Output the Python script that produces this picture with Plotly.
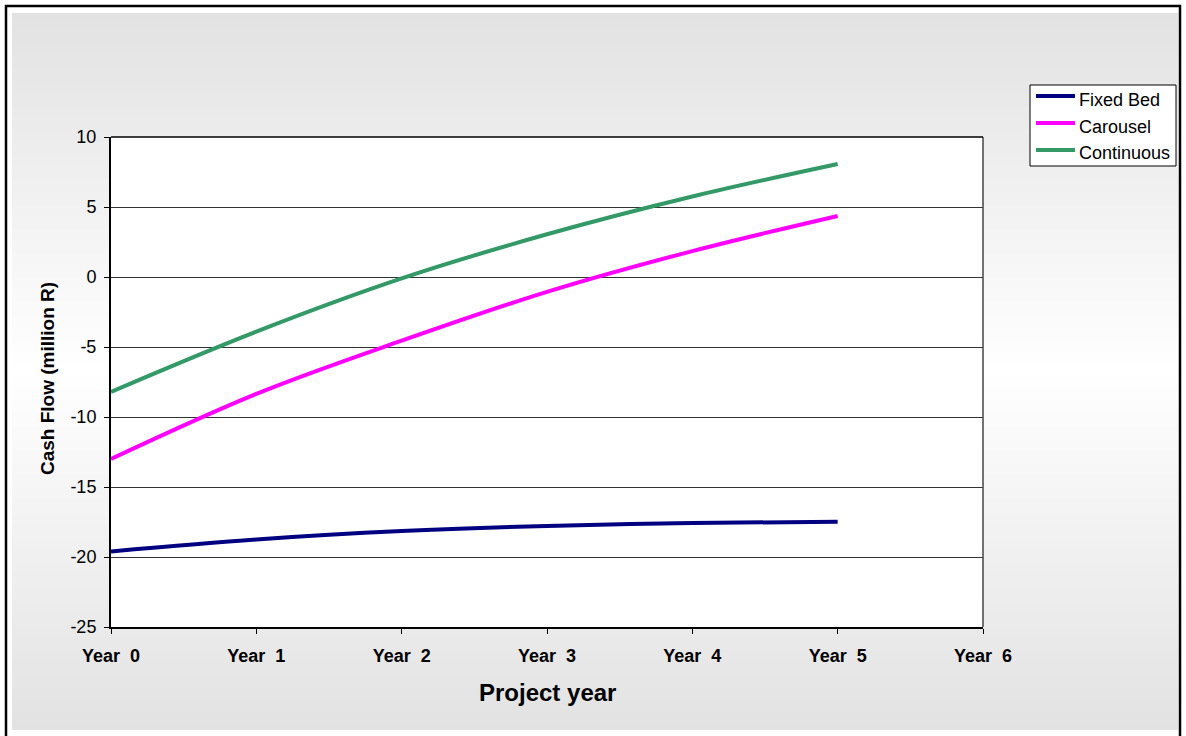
import plotly.graph_objects as go

# Cash flow projections (million R) per project year
years = [0, 1, 2, 3, 4, 5]
tick_vals = [0, 1, 2, 3, 4, 5, 6]
tick_text = ["Year\u00a0 0", "Year\u00a0 1", "Year\u00a0 2", "Year\u00a0 3",
             "Year\u00a0 4", "Year\u00a0 5", "Year\u00a0 6"]
y_tick_vals = [-25, -20, -15, -10, -5, 0, 5, 10]
y_tick_text = ["-25", "-20", "-15", "-10", "-5", "0", "5", "10"]
fixed_bed = [-19.6, -18.75, -18.15, -17.78, -17.57, -17.48]
carousel = [-13.0, -8.35, -4.55, -1.06, 1.85, 4.36]
continuous = [-8.2, -3.9, -0.1, 3.05, 5.75, 8.07]

W, H = 1186, 736
L, R, T, B = 111, 203, 137, 109
PW, PH = W - L - R, H - T - B


def px_x(p):
    return (p - L) / PW


def px_y(p):
    return (H - B - p) / PH


FONT = "Liberation Sans, Arial, sans-serif"

fig = go.Figure()
series = [
    ("Fixed Bed", fixed_bed, "#000080"),
    ("Carousel", carousel, "#FF00FF"),
    ("Continuous", continuous, "#339966"),
]
for name, vals, col in series:
    fig.add_trace(go.Scatter(
        x=years, y=vals, name=name, mode="lines",
        line=dict(color=col, width=4, shape="spline", smoothing=1.0),
        showlegend=False,
    ))

shapes = []
# vertical grey-white-grey gradient behind the chart
top, bot, mid = 13, 730, 370
step = 3
p = top
while p < bot:
    c = p + step / 2
    if c <= mid:
        t = (c - top) / (mid - top)
        v = 226 + t * (255 - 226)
    else:
        t = (c - mid) / (bot - mid)
        v = 255 - t * (255 - 226)
    v = int(round(v))
    shapes.append(dict(
        type="rect", xref="paper", yref="paper", layer="below",
        x0=px_x(12), x1=px_x(1178), y0=px_y(min(p + step + 0.5, bot)), y1=px_y(p),
        fillcolor=f"rgb({v},{v},{v})", line=dict(width=0),
    ))
    p += step

# white plotting area
shapes.append(dict(type="rect", xref="paper", yref="paper", layer="below",
                   x0=0, x1=1, y0=0, y1=1, fillcolor="white", line=dict(width=0)))
# right and top edges of the plotting area
shapes.append(dict(type="line", xref="paper", yref="paper", layer="above",
                   x0=1, x1=1, y0=0, y1=1, line=dict(color="#444444", width=1.5)))
shapes.append(dict(type="line", xref="paper", yref="paper", layer="above",
                   x0=0, x1=1, y0=1, y1=1, line=dict(color="black", width=1.5)))
# outer chart frame
shapes.append(dict(type="rect", xref="paper", yref="paper", layer="above",
                   x0=px_x(6), x1=px_x(1180), y0=px_y(745), y1=px_y(6),
                   fillcolor="rgba(0,0,0,0)", line=dict(color="black", width=2.5)))

annotations = [
    dict(text="<b>Project year</b>", xref="paper", yref="paper",
         x=px_x(547), y=px_y(692), xanchor="center", yanchor="middle",
         showarrow=False, font=dict(family=FONT, size=24, color="black")),
    dict(text="<b>Cash Flow (million R)</b>", xref="paper", yref="paper",
         x=px_x(47), y=px_y(379), xanchor="center", yanchor="middle",
         textangle=-90, showarrow=False,
         font=dict(family=FONT, size=19, color="black")),
]

# legend box with line samples
leg_x0, leg_x1, leg_y0, leg_y1 = 1030, 1176, 85, 166
shapes.append(dict(type="rect", xref="paper", yref="paper", layer="above",
                   x0=px_x(leg_x0), x1=px_x(leg_x1), y0=px_y(leg_y1), y1=px_y(leg_y0),
                   fillcolor="white", line=dict(color="black", width=1)))
row_lines = [96, 123, 150]
row_texts = [100, 127, 153]
for (name, _, col), ly, ty in zip(series, row_lines, row_texts):
    shapes.append(dict(type="line", xref="paper", yref="paper", layer="above",
                       x0=px_x(1036), x1=px_x(1075), y0=px_y(ly), y1=px_y(ly),
                       line=dict(color=col, width=4)))
    annotations.append(dict(text=name, xref="paper", yref="paper",
                            x=px_x(1077), y=px_y(ty), xanchor="left", yanchor="middle",
                            showarrow=False,
                            font=dict(family=FONT, size=18, color="black")))

fig.update_layout(
    width=W, height=H,
    margin=dict(l=L, r=R, t=T, b=B),
    paper_bgcolor="white",
    plot_bgcolor="white",
    shapes=shapes,
    annotations=annotations,
    font=dict(family=FONT, color="black"),
    showlegend=False,
    xaxis=dict(
        range=[0, 6], tickmode="array", tickvals=tick_vals, ticktext=tick_text,
        showgrid=False, zeroline=False,
        showline=True, linecolor="black", linewidth=2, mirror=False,
        ticks="outside", ticklen=5, tickwidth=1, tickcolor="black",
        tickfont=dict(family=FONT, size=18, color="black", weight="bold"),
        ticklabelstandoff=6,
    ),
    yaxis=dict(
        range=[-25, 10], tickmode="array", tickvals=y_tick_vals, ticktext=y_tick_text,
        showgrid=True, gridcolor="#333333", gridwidth=1, zeroline=False,
        showline=True, linecolor="black", linewidth=2, mirror=False,
        ticks="outside", ticklen=5, tickwidth=1, tickcolor="black",
        tickfont=dict(family=FONT, size=18, color="black"),
        ticklabelstandoff=4,
    ),
)

fig.write_html("out.html")
